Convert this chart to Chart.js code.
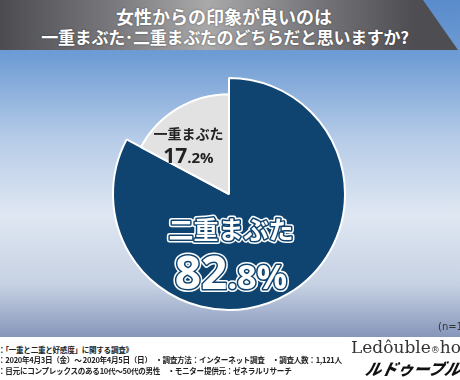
<!DOCTYPE html>
<html lang="ja">
<head>
<meta charset="UTF-8">
<title>一重まぶた・二重まぶた</title>
<script src="https://cdn.jsdelivr.net/npm/chart.js"></script>
<style>
  body { margin: 0; width: 460px; height: 380px; overflow: hidden; background: #fff;
         font-family: "Noto Sans CJK JP", "Noto Sans", sans-serif; position: relative; }
  .bg { position: absolute; left: 0; top: 0; width: 460px; height: 337px;
        background: linear-gradient(to bottom, #5a8bcb 0px, #6e9cd4 55px, #b7cce8 140px, #dfe7f2 215px, #c6d1e3 285px, #8696ba 337px); }
  .banner { position: absolute; left: 0; top: 0; width: 460px; height: 50px;
            background: linear-gradient(to right, #4c4b50 0%, #7a7a7e 25%, #a9a9aa 45%, #7e7e82 65%, #4e4d52 90%);
            clip-path: polygon(0 0, 423px 0, 458px 50px, 0 50px); }
  .banner div { position: absolute; width: 460px; text-align: center; color: #fff; font-weight: bold;
                text-shadow: 0 0 2px rgba(0,0,0,0.5); white-space: nowrap; }
  .t1 { top: 5px; left: -6px; font-size: 18px; line-height: 22px; }
  .t2 { top: 26px; left: -5px; font-size: 17px; line-height: 22px; letter-spacing: -0.3px; }
  #wrap { position: absolute; left: 0; top: 50px; width: 460px; height: 287px; }
  .n { position: absolute; left: 438px; top: 321px; font-size: 10px; color: #333; white-space: nowrap; font-family: "DejaVu Sans", sans-serif; }
  .foot { position: absolute; left: -2px; font-size: 7.6px; color: #222; white-space: nowrap; font-weight: bold; letter-spacing: -0.3px; }
  .logo1 { position: absolute; left: 351px; top: 337px; font-family: "DejaVu Serif", serif; font-size: 17px; color: #333; white-space: nowrap; }
  .logo2 { position: absolute; left: 366px; top: 356px; font-size: 16px; font-weight: 900; font-style: italic; color: #111; white-space: nowrap; transform: skewX(-12deg); }
</style>
</head>
<body>
<div class="bg"></div>
<div class="banner">
  <div class="t1">女性からの印象が良いのは</div>
  <div class="t2">一重まぶた･二重まぶたのどちらだと思いますか?</div>
</div>
<div id="wrap"><canvas id="pie" width="460" height="287"></canvas></div>
<div class="n">(n=1,121)</div>
<div class="foot" style="top:344px">：「一重と二重と好感度」に関する調査》</div>
<div class="foot" style="top:354px">：2020年4月3日（金）～ 2020年4月5日（日）　・調査方法：インターネット調査　・調査人数：1,121人</div>
<div class="foot" style="top:365px">：目元にコンプレックスのある10代～50代の男性　・モニター提供元：ゼネラルリサーチ</div>
<div class="logo1">Ledôuble<span style="font-size:9px">®</span>ho</div>
<div class="logo2">ルドゥーブル ス</div>

<script>
// answers
const labels = ['二重まぶた', '一重まぶた'];
const values = [82.8, 17.2];
const colors = ['#0f4470', '#e2e2e2'];
const radiusScale = [1, 0.86];   // grey slice drawn smaller

const sliceSize = {
  id: 'sliceSize',
  afterUpdate(chart) {
    const meta = chart.getDatasetMeta(0);
    meta.data.forEach((arc, i) => { arc.outerRadius = arc.outerRadius * radiusScale[i]; });
  }
};

function outlined(ctx, txt, x, y, fill, inner, outer, w1, w2) {
  ctx.lineJoin = 'round';
  if (outer) { ctx.strokeStyle = outer; ctx.lineWidth = w2; ctx.strokeText(txt, x, y); }
  if (inner) { ctx.strokeStyle = inner; ctx.lineWidth = w1; ctx.strokeText(txt, x, y); }
  ctx.fillStyle = fill; ctx.fillText(txt, x, y);
}

// draws "82" + ".8%" with the smaller decimal part
function drawPct(ctx, v, cx, y, big, small, fill, inner, outer, w1, w2) {
  const s = v.toFixed(1);
  const a = s.split('.')[0];
  const b = '.' + s.split('.')[1] + '%';
  ctx.font = 'bold ' + big + 'px "Open Sans", Roboto, sans-serif';
  const wa = ctx.measureText(a).width;
  ctx.font = 'bold ' + small + 'px "Open Sans", Roboto, sans-serif';
  const wb = ctx.measureText(b).width;
  const x0 = cx - (wa + wb) / 2;
  ctx.textAlign = 'left';
  ctx.textBaseline = 'alphabetic';
  ctx.font = 'bold ' + big + 'px "Open Sans", Roboto, sans-serif';
  outlined(ctx, a, x0, y, fill, inner, outer, w1, w2);
  ctx.font = 'bold ' + small + 'px "Open Sans", Roboto, sans-serif';
  outlined(ctx, b, x0 + wa, y, fill, inner, outer, w1, w2);
}

const sliceLabels = {
  id: 'sliceLabels',
  afterDraw(chart) {
    const ctx = chart.ctx;
    const meta = chart.getDatasetMeta(0);
    const big = meta.data[0];
    const r = big.outerRadius;
    const cx = big.x, cy = big.y;
    ctx.save();
    // large slice
    ctx.textAlign = 'center';
    ctx.textBaseline = 'middle';
    ctx.font = 'bold 25px "Noto Sans CJK JP", sans-serif';
    outlined(ctx, labels[0], cx + 2, cy + r * 0.31, '#fff', '#0f4470', '#fff', 3, 6);
    drawPct(ctx, values[0], cx + 2, cy + r * 0.82, 46, 34, '#fff', '#0f4470', '#fff', 3, 6);
    // small slice
    ctx.textAlign = 'center';
    ctx.textBaseline = 'middle';
    ctx.font = 'bold 14px "Noto Sans CJK JP", sans-serif';
    outlined(ctx, labels[1], cx - r * 0.35, cy - r * 0.52, '#222');
    drawPct(ctx, values[1], cx - r * 0.35, cy - r * 0.27, 21, 15, '#222');
    ctx.restore();
  }
};

new Chart(document.getElementById('pie'), {
  type: 'pie',
  data: {
    labels: labels,
    datasets: [{
      data: values,
      backgroundColor: colors,
      borderColor: '#ffffff',
      borderWidth: 2
    }]
  },
  options: {
    responsive: false,
    animation: false,
    layout: { padding: { top: 27, bottom: 26, left: 0, right: 2 } },
    plugins: { legend: { display: false }, tooltip: { enabled: false } }
  },
  plugins: [sliceSize, sliceLabels]
});
</script>
</body>
</html>
